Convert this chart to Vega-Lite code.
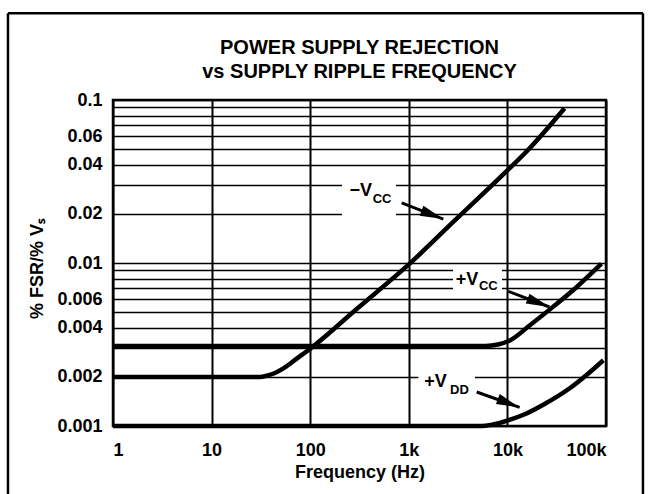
{
  "$schema": "https://vega.github.io/schema/vega-lite/v6.json",
  "width": 493,
  "height": 326,
  "autosize": {"type": "none"},
  "padding": {"left": 113, "top": 100, "right": 42, "bottom": 68},
  "background": "white",
  "config": {
    "view": {"stroke": "black", "strokeWidth": 2.5},
    "font": "Liberation Sans"
  },
  "title": {
    "text": ["POWER SUPPLY REJECTION", "vs SUPPLY RIPPLE FREQUENCY"],
    "font": "Liberation Sans",
    "fontSize": 20,
    "fontWeight": "bold",
    "color": "black",
    "anchor": "middle",
    "frame": "group",
    "baseline": "bottom",
    "lineHeight": 24,
    "offset": -90
  },
  "datasets": {
    "frame": [
      {"f": 0.0861, "v": 0.34, "f2": 237000, "v2": 0.34},
      {"f": 0.0861, "v": 0.34, "f2": 0.0861, "v2": 0.000304},
      {"f": 237000, "v": 0.34, "f2": 237000, "v2": 0.000304}
    ],
    "curves": [
      {"series": "-Vcc", "f": 1, "v": 0.002},
      {"series": "-Vcc", "f": 10, "v": 0.002},
      {"series": "-Vcc", "f": 31, "v": 0.002},
      {"series": "-Vcc", "f": 38, "v": 0.00205},
      {"series": "-Vcc", "f": 45, "v": 0.00213},
      {"series": "-Vcc", "f": 55, "v": 0.00228},
      {"series": "-Vcc", "f": 73, "v": 0.00259},
      {"series": "-Vcc", "f": 100, "v": 0.00298},
      {"series": "-Vcc", "f": 300, "v": 0.00526},
      {"series": "-Vcc", "f": 1000, "v": 0.0098},
      {"series": "-Vcc", "f": 3000, "v": 0.0185},
      {"series": "-Vcc", "f": 10000, "v": 0.037},
      {"series": "-Vcc", "f": 16000, "v": 0.049},
      {"series": "-Vcc", "f": 38000, "v": 0.089},
      {"series": "+Vcc", "f": 1, "v": 0.0031},
      {"series": "+Vcc", "f": 1000, "v": 0.0031},
      {"series": "+Vcc", "f": 6000, "v": 0.0031},
      {"series": "+Vcc", "f": 8000, "v": 0.00316},
      {"series": "+Vcc", "f": 10600, "v": 0.00335},
      {"series": "+Vcc", "f": 16900, "v": 0.00415},
      {"series": "+Vcc", "f": 29200, "v": 0.0054},
      {"series": "+Vcc", "f": 50500, "v": 0.00713},
      {"series": "+Vcc", "f": 90000, "v": 0.0099},
      {"series": "+Vdd", "f": 1, "v": 0.001},
      {"series": "+Vdd", "f": 1000, "v": 0.001},
      {"series": "+Vdd", "f": 5500, "v": 0.001},
      {"series": "+Vdd", "f": 7000, "v": 0.00102},
      {"series": "+Vdd", "f": 10000, "v": 0.00108},
      {"series": "+Vdd", "f": 15000, "v": 0.00118},
      {"series": "+Vdd", "f": 23100, "v": 0.00135},
      {"series": "+Vdd", "f": 43200, "v": 0.00171},
      {"series": "+Vdd", "f": 66200, "v": 0.0021},
      {"series": "+Vdd", "f": 94000, "v": 0.00253}
    ],
    "boxes": [
      {"series": "-Vcc", "f": 210, "f2": 741, "v": 0.0193, "v2": 0.034},
      {"series": "+Vcc", "f": 2807, "f2": 8817, "v": 0.00652, "v2": 0.0094},
      {"series": "+Vdd", "f": 1248, "f2": 4691, "v": 0.00161, "v2": 0.00226}
    ],
    "arrows": [
      {"series": "-Vcc", "f": 847, "v": 0.0234, "f2": 2239, "v2": 0.0186},
      {"series": "+Vcc", "f": 10200, "v": 0.0067, "f2": 26700, "v2": 0.00537},
      {"series": "+Vdd", "f": 4885, "v": 0.001617, "f2": 13300, "v2": 0.0013}
    ],
    "heads": [
      {"series": "-Vcc", "f": 2239, "v": 0.0186},
      {"series": "+Vcc", "f": 26700, "v": 0.00537},
      {"series": "+Vdd", "f": 13300, "v": 0.0013}
    ],
    "labels": [
      {"series": "-Vcc", "part": "main", "f": 424, "v": 0.0258, "text": "−V"},
      {"series": "-Vcc", "part": "sub", "f": 430, "v": 0.0234, "text": "CC"},
      {"series": "+Vcc", "part": "main", "f": 5070, "v": 0.0073, "text": "+V"},
      {"series": "+Vcc", "part": "sub", "f": 5150, "v": 0.0068, "text": "CC"},
      {"series": "+Vdd", "part": "main", "f": 2422, "v": 0.001735, "text": "+V"},
      {"series": "+Vdd", "part": "sub", "f": 2618, "v": 0.00158, "text": "DD"}
    ]
  },
  "encoding": {
    "x": {
      "field": "f",
      "type": "quantitative",
      "scale": {"type": "log", "domain": [1, 100000], "nice": false},
      "axis": {
        "title": "Frequency (Hz)",
        "values": [1, 10, 100, 1000, 10000, 100000],
        "format": "~s",
        "labelOverlap": false,
        "grid": true,
        "gridColor": "black",
        "gridWidth": 2,
        "gridOpacity": 1,
        "domain": false,
        "ticks": false,
        "labelFont": "Liberation Sans",
        "labelFontSize": 18,
        "labelFontWeight": "bold",
        "labelColor": "black",
        "labelPadding": 15,
        "titleFont": "Liberation Sans",
        "titleFontSize": 18,
        "titleFontWeight": "bold",
        "titleColor": "black",
        "titleY": 46,
        "titleBaseline": "middle"
      }
    },
    "y": {
      "field": "v",
      "type": "quantitative",
      "scale": {"type": "log", "domain": [0.001, 0.1], "nice": false},
      "axis": {
        "title": "% FSR/% Vₛ",
        "values": [0.001, 0.002, 0.003, 0.004, 0.005, 0.006, 0.007, 0.008, 0.009, 0.01, 0.02, 0.03, 0.04, 0.05, 0.06, 0.07, 0.08, 0.09, 0.1],
        "format": "~g",
        "labelExpr": "indexof([0.001, 0.002, 0.004, 0.006, 0.01, 0.02, 0.04, 0.06, 0.1], datum.value) >= 0 ? datum.label : ''",
        "labelOverlap": false,
        "grid": true,
        "gridColor": "black",
        "gridWidth": 1.5,
        "gridOpacity": 1,
        "domain": false,
        "ticks": false,
        "labelFont": "Liberation Sans",
        "labelFontSize": 18,
        "labelFontWeight": "bold",
        "labelColor": "black",
        "labelPadding": 11,
        "titleFont": "Liberation Sans",
        "titleFontSize": 18,
        "titleFontWeight": "bold",
        "titleColor": "black",
        "titleX": -76,
        "titleY": 168,
        "titleAngle": -90,
        "titleAlign": "center",
        "titleBaseline": "middle"
      }
    }
  },
  "layer": [
    {
      "data": {"name": "frame"},
      "mark": {"type": "rule", "color": "black", "strokeWidth": 2.5},
      "encoding": {"x2": {"field": "f2"}, "y2": {"field": "v2"}}
    },
    {
      "data": {"name": "boxes"},
      "mark": {"type": "rect", "fill": "white", "strokeWidth": 0},
      "encoding": {"x2": {"field": "f2"}, "y2": {"field": "v2"}}
    },
    {
      "data": {"name": "curves"},
      "mark": {"type": "line", "color": "black", "strokeWidth": 4.5, "interpolate": "monotone"},
      "encoding": {"detail": {"field": "series"}}
    },
    {
      "data": {"name": "arrows"},
      "mark": {"type": "rule", "color": "black", "strokeWidth": 3},
      "encoding": {"x2": {"field": "f2"}, "y2": {"field": "v2"}}
    },
    {
      "data": {"name": "heads"},
      "mark": {"type": "point", "filled": true, "color": "black", "opacity": 1, "shape": "M0,0L0.5,2.2L-0.5,2.2Z", "size": 450, "angle": 111},
      "encoding": {}
    },
    {
      "data": {"name": "labels"},
      "transform": [{"filter": "datum.part == 'main'"}],
      "mark": {"type": "text", "align": "right", "baseline": "alphabetic", "font": "Liberation Sans", "fontSize": 18, "fontWeight": "bold", "color": "black"},
      "encoding": {"text": {"field": "text"}}
    },
    {
      "data": {"name": "labels"},
      "transform": [{"filter": "datum.part == 'sub'"}],
      "mark": {"type": "text", "align": "left", "baseline": "alphabetic", "font": "Liberation Sans", "fontSize": 13, "fontWeight": "bold", "color": "black"},
      "encoding": {"text": {"field": "text"}}
    }
  ]
}
